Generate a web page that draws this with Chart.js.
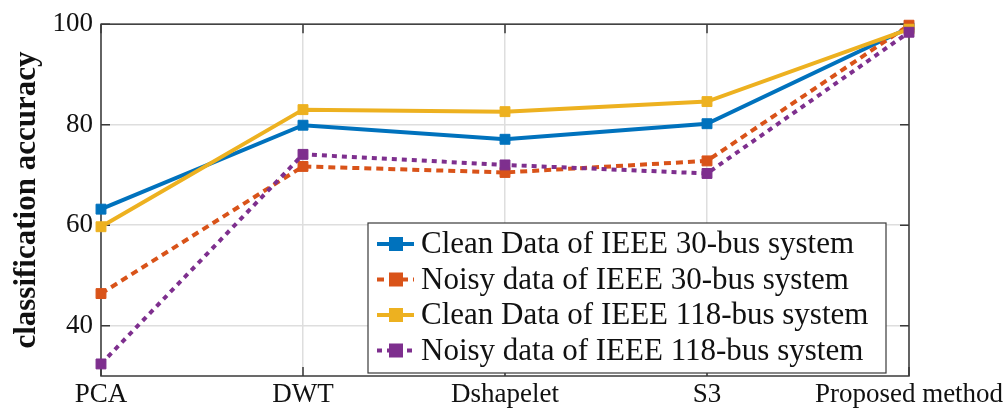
<!DOCTYPE html>
<html>
<head>
<meta charset="utf-8">
<script src="https://cdn.jsdelivr.net/npm/chart.js@4"></script>
<style>
  html, body { margin: 0; padding: 0; background: #fff; }
  #wrap { width: 1008px; height: 409px; }
</style>
</head>
<body>
<div id="wrap"><canvas id="accChart" width="1008" height="409"></canvas></div>
<script>
// categories + series values
const methods = ["PCA", "DWT", "Dshapelet", "S3", "Proposed method"];
const clean30 = [63.2, 79.9, 77.1, 80.2, 99.3];
const noisy30 = [46.4, 71.7, 70.5, 72.8, 99.8];
const clean118 = [59.7, 83.0, 82.6, 84.6, 99.0];
const noisy118 = [32.4, 74.1, 72.0, 70.3, 98.4];
const yTicks = [40, 60, 80, 100];

const seriesNames = [
    "Clean Data of IEEE 30-bus system",
    "Noisy data of IEEE 30-bus system",
    "Clean Data of IEEE 118-bus system",
    "Noisy data of IEEE 118-bus system"
];

const SERIF = "'Liberation Serif', 'Times New Roman', serif";

function makeSet(label, data, color, dash, order) {
    return {
        label: label,
        data: data,
        borderColor: color,
        backgroundColor: color,
        borderWidth: 4,
        borderDash: dash,
        pointStyle: "rect",
        pointRadius: 7,
        pointHoverRadius: 7,
        pointBorderWidth: 1,
        pointBorderColor: color,
        pointBackgroundColor: color,
        tension: 0,
        fill: false,
        clip: false,
        order: order
    };
}

// box + inward ticks like the matlab axes
const framePlugin = {
    id: "frame",
    beforeDatasetsDraw(chart) {
        const { ctx, chartArea: a, scales } = chart;
        ctx.save();
        ctx.strokeStyle = "#3a3a3a";
        ctx.lineWidth = 1.5;
        ctx.strokeRect(a.left, a.top, a.right - a.left, a.bottom - a.top);
        ctx.beginPath();
        yTicks.forEach(v => {
            const y = scales.y.getPixelForValue(v);
            ctx.moveTo(a.left, y); ctx.lineTo(a.left + 9, y);
            ctx.moveTo(a.right, y); ctx.lineTo(a.right - 9, y);
        });
        methods.forEach((m, i) => {
            const x = scales.x.getPixelForValue(i);
            ctx.moveTo(x, a.bottom); ctx.lineTo(x, a.bottom - 9);
            ctx.moveTo(x, a.top); ctx.lineTo(x, a.top + 9);
        });
        ctx.stroke();
        ctx.restore();
    }
};

// legend box sitting inside the plot, lower right
const boxLegend = {
    id: "boxLegend",
    afterDraw(chart) {
        const ctx = chart.ctx;
        const x0 = 368, y0 = 223, w = 518, h = 150, rowH = 35.5;
        ctx.save();
        ctx.fillStyle = "#fff";
        ctx.fillRect(x0, y0, w, h);
        ctx.strokeStyle = "#3a3a3a";
        ctx.lineWidth = 1.2;
        ctx.strokeRect(x0, y0, w, h);
        ctx.font = "31px " + SERIF;
        ctx.textBaseline = "middle";
        chart.data.datasets.forEach((ds, i) => {
            const cy = y0 + 21 + i * rowH;
            ctx.strokeStyle = ds.borderColor;
            ctx.lineWidth = 4;
            ctx.setLineDash(ds.borderDash || []);
            ctx.beginPath();
            ctx.moveTo(x0 + 9, cy);
            ctx.lineTo(x0 + 46, cy);
            ctx.stroke();
            ctx.setLineDash([]);
            ctx.fillStyle = ds.borderColor;
            ctx.fillRect(x0 + 21, cy - 7, 14, 14);
            ctx.fillStyle = "#111";
            ctx.fillText(ds.label, x0 + 53, cy + 1);
        });
        ctx.restore();
    }
};

const ctx = document.getElementById("accChart").getContext("2d");
new Chart(ctx, {
    type: "line",
    data: {
        labels: methods,
        datasets: [
            makeSet(seriesNames[0], clean30, "#0072BD", [], 4),
            makeSet(seriesNames[1], noisy30, "#D95319", [7, 5], 3),
            makeSet(seriesNames[2], clean118, "#EDB120", [], 2),
            makeSet(seriesNames[3], noisy118, "#7E2F8E", [5, 5], 1)
        ]
    },
    options: {
        responsive: false,
        animation: false,
        layout: { padding: { top: 21, right: 99, bottom: 0, left: 0 } },
        plugins: {
            legend: { display: false },
            tooltip: { enabled: false }
        },
        scales: {
            x: {
                type: "category",
                offset: false,
                grid: { color: "#dedede", lineWidth: 1.5, drawTicks: false },
                border: { display: false },
                ticks: {
                    color: "#111",
                    font: { family: SERIF, size: 27 },
                    padding: 3,
                    maxRotation: 0,
                    autoSkip: false
                },
                afterFit(s) { s.height = 33; }
            },
            y: {
                min: 30,
                max: 100,
                grid: { color: "#dedede", lineWidth: 1.5, drawTicks: false },
                border: { display: false },
                afterBuildTicks(s) { s.ticks = yTicks.map(v => ({ value: v })); },
                ticks: {
                    color: "#111",
                    font: { family: SERIF, size: 27 },
                    padding: 8
                },
                title: {
                    display: true,
                    text: "classification accuracy",
                    color: "#111",
                    font: { family: SERIF, size: 31, weight: "bold" },
                    padding: { top: 8, bottom: 0 }
                },
                afterFit(s) { s.width = 101; }
            }
        }
    },
    plugins: [framePlugin, boxLegend]
});
</script>
</body>
</html>
